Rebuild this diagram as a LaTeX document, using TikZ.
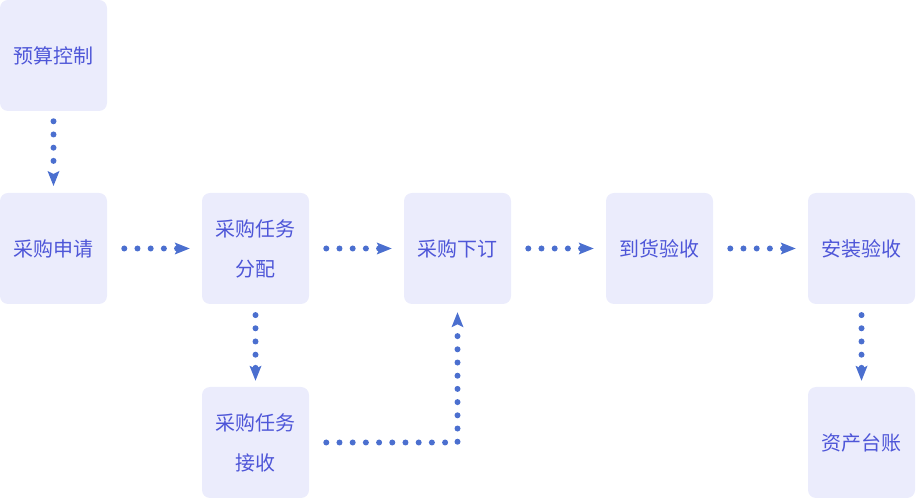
\documentclass[tikz,border=0pt]{standalone}
\usepackage{fontspec}
\setmainfont{Noto Sans CJK SC}
\usetikzlibrary{arrows.meta,positioning}

\definecolor{boxfill}{HTML}{EBECFC}
\definecolor{boxtext}{HTML}{4E56D8}
\definecolor{flowdot}{HTML}{4B6FCF}

\tikzset{
  stage/.style={shape=rectangle,rounded corners=0.2cm,fill=boxfill,text=boxtext,
    minimum width=2.675cm,minimum height=2.775cm,inner sep=0pt,align=center,
    font=\fontsize{14.2pt}{28.45pt}\selectfont},
  flow/.style={draw=flowdot,line width=0.15cm,line cap=round,dash pattern=on 0pt off 0.33cm,
    -{Stealth[length=0.375cm,width=0.3cm,inset=0.075cm,line width=0pt,round=false]}},
}

\begin{document}
\begin{tikzpicture}
  \useasboundingbox (0,0) rectangle (22.9,12.475);
  \node[stage] (budget) at (1.3375,11.0875) {预算控制};
  \node[stage] (request) at (1.3375,6.2625) {采购申请};
  \node[stage] (assign) at (6.3875,6.2625) {采购任务\\分配};
  \node[stage] (order) at (11.4375,6.2625) {采购下订};
  \node[stage] (arrive) at (16.4875,6.2625) {到货验收};
  \node[stage] (install) at (21.5375,6.2625) {安装验收};
  \node[stage] (receive) at (6.3875,1.4125) {采购任务\\接收};
  \node[stage] (ledger) at (21.5375,1.4125) {资产台账};
  % main line
  \draw[flow,shorten <=0.425cm,shorten >=0.3cm] (request) -- (assign);
  \draw[flow,shorten <=0.425cm,shorten >=0.3cm] (assign) -- (order);
  \draw[flow,shorten <=0.425cm,shorten >=0.3cm] (order) -- (arrive);
  \draw[flow,shorten <=0.425cm,shorten >=0.3cm] (arrive) -- (install);
  % down and back up
  \draw[flow,shorten <=0.25cm,shorten >=0.17cm] (budget) -- (request);
  \draw[flow,shorten <=0.27cm,shorten >=0.15cm] (assign) -- (receive);
  \draw[flow,shorten <=0.27cm,shorten >=0.15cm] (install) -- (ledger);
  \draw[flow,shorten <=0.425cm,shorten >=0.2cm] (receive) -| (order);
\end{tikzpicture}
\end{document}
